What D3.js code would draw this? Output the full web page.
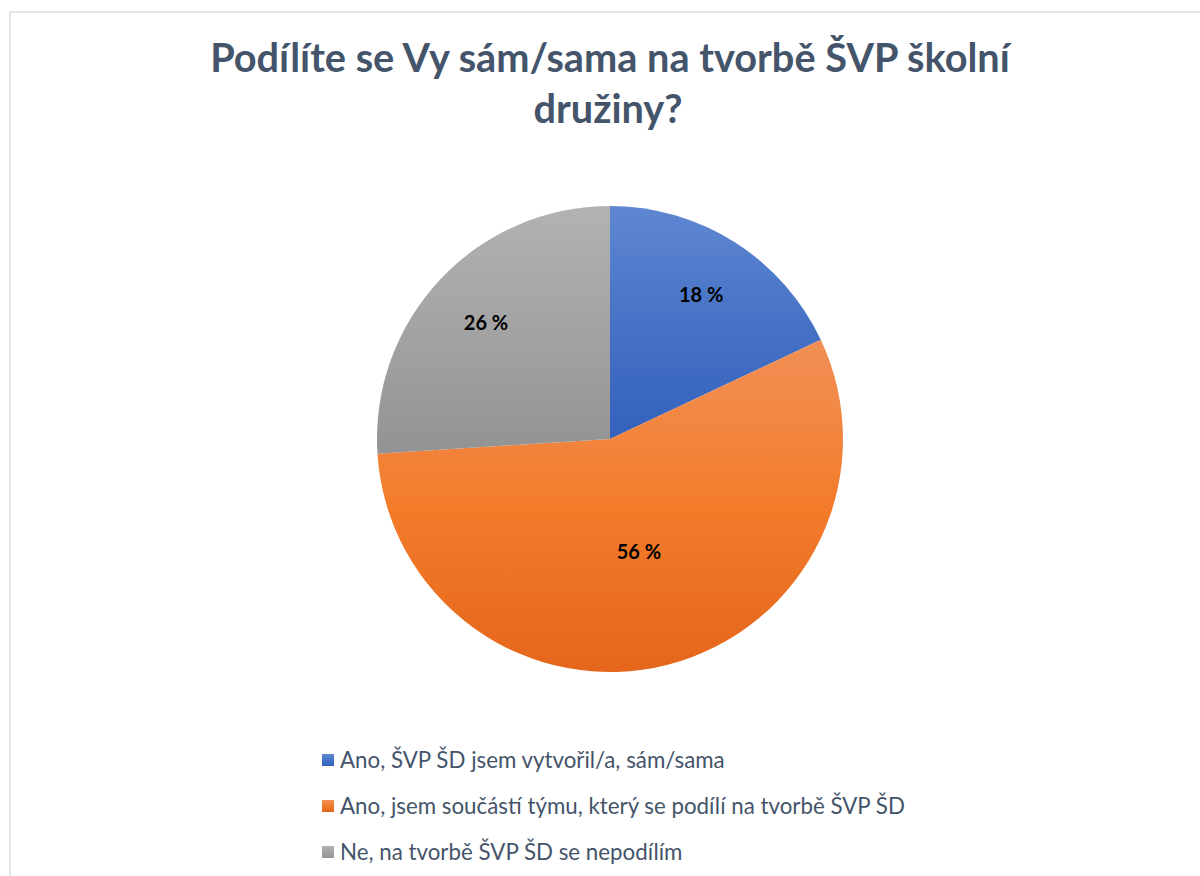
<!DOCTYPE html>
<html lang="cs">
<head>
<meta charset="UTF-8">
<title>Podílíte se Vy sám/sama na tvorbě ŠVP školní družiny?</title>
<script src="https://d3js.org/d3.v7.min.js"></script>
<style>
  html, body { margin: 0; padding: 0; background: #fff; }
  svg { display: block; }
</style>
</head>
<body>
<div id="chart"></div>
<script>
// data
var titleLines = ["Podílíte se Vy sám/sama na tvorbě ŠVP školní", "družiny?"];
var categories = [
    "Ano, ŠVP ŠD jsem vytvořil/a, sám/sama",
    "Ano, jsem součástí týmu, který se podílí na tvorbě ŠVP ŠD",
    "Ne, na tvorbě ŠVP ŠD se nepodílím"
];
var values = [18, 56, 26];
var colorsTop = ["#5f87d2", "#f19056", "#b2b2b2"];
var colorsMid = ["#4673c6", "#f37c2b", "#a3a3a3"];
var colorsBottom = ["#3461bc", "#e4661b", "#939393"];

var W = 1200, H = 876;
var cx = 610, cy = 439, R = 233;
var font = "Lato, 'Open Sans', sans-serif";

var svg = d3.select("#chart").append("svg")
    .attr("width", W)
    .attr("height", H);

// chart frame (only left and top edges are visible)
svg.append("rect")
    .attr("x", 10).attr("y", 12)
    .attr("width", W + 20).attr("height", H + 20)
    .attr("fill", "#fff")
    .attr("stroke", "#e2e6eb")
    .attr("stroke-width", 2);

// fit a text node to a target width by changing its font size
function fitWidth(sel, target) {
    var fs = parseFloat(sel.attr("font-size"));
    var w = sel.node().getComputedTextLength();
    sel.attr("font-size", (fs * target / w).toFixed(2));
}

// title
var title = svg.append("g").attr("class", "title");
var t1 = title.append("text")
    .attr("x", 610).attr("y", 72)
    .attr("text-anchor", "middle")
    .attr("font-family", font)
    .attr("font-weight", "bold")
    .attr("font-size", 36)
    .attr("fill", "#44546a")
    .text(titleLines[0]);
fitWidth(t1, 800);
title.append("text")
    .attr("x", 608).attr("y", 123)
    .attr("text-anchor", "middle")
    .attr("font-family", font)
    .attr("font-weight", "bold")
    .attr("font-size", t1.attr("font-size"))
    .attr("fill", "#44546a")
    .text(titleLines[1]);

// gradients per slice
var defs = svg.append("defs");
values.forEach(function(v, i) {
    var g = defs.append("linearGradient")
        .attr("id", "grad" + i)
        .attr("x1", 0).attr("y1", 0).attr("x2", 0).attr("y2", 1);
    g.append("stop").attr("offset", "0%").attr("stop-color", colorsTop[i]);
    g.append("stop").attr("offset", "50%").attr("stop-color", colorsMid[i]);
    g.append("stop").attr("offset", "100%").attr("stop-color", colorsBottom[i]);
});

// pie
var pie = d3.pie().sort(null).value(function(d){ return d; });
var arcs = pie(values);
var arc = d3.arc().innerRadius(0).outerRadius(R);

var pieG = svg.append("g").attr("transform", "translate(" + cx + "," + cy + ")");
pieG.selectAll("path.slice")
    .data(arcs)
    .enter().append("path")
    .attr("class", "slice")
    .attr("d", arc)
    .attr("fill", function(d, i){ return "url(#grad" + i + ")"; });

// data labels (big slices get their label pulled toward the centre)
var labelArc = d3.arc().innerRadius(R * 0.73).outerRadius(R * 0.73);
var bigArc = d3.arc().innerRadius(R * 0.5).outerRadius(R * 0.5);
pieG.selectAll("text.lbl")
    .data(arcs)
    .enter().append("text")
    .attr("class", "lbl")
    .attr("transform", function(d){
        var a = (d.endAngle - d.startAngle) > Math.PI ? bigArc : labelArc;
        var c = a.centroid(d);
        return "translate(" + c[0] + "," + c[1] + ")";
    })
    .attr("text-anchor", "middle")
    .attr("dy", "0.35em")
    .attr("font-family", font)
    .attr("font-weight", "bold")
    .attr("font-size", 20)
    .attr("fill", "#000")
    .text(function(d){ return d.data + " %"; });

// legend
var legendY = d3.scalePoint().domain(d3.range(categories.length)).range([760, 852]);
var legend = svg.append("g").attr("class", "legend");
var items = legend.selectAll("g")
    .data(categories)
    .enter().append("g")
    .attr("transform", function(d, i){ return "translate(322," + legendY(i) + ")"; });
items.append("rect")
    .attr("x", 0).attr("y", -6)
    .attr("width", 12).attr("height", 12)
    .attr("fill", function(d, i){ return "url(#grad" + i + ")"; });
var lt = items.append("text")
    .attr("x", 18)
    .attr("dy", "0.35em")
    .attr("font-family", font)
    .attr("font-size", 20)
    .attr("fill", "#44546a")
    .text(function(d){ return d; });
// scale legend font so the longest entry matches the original width
var longest = d3.select(lt.nodes()[1]);
var w0 = longest.node().getComputedTextLength();
lt.attr("font-size", (20 * 565 / w0).toFixed(2));
</script>
</body>
</html>
